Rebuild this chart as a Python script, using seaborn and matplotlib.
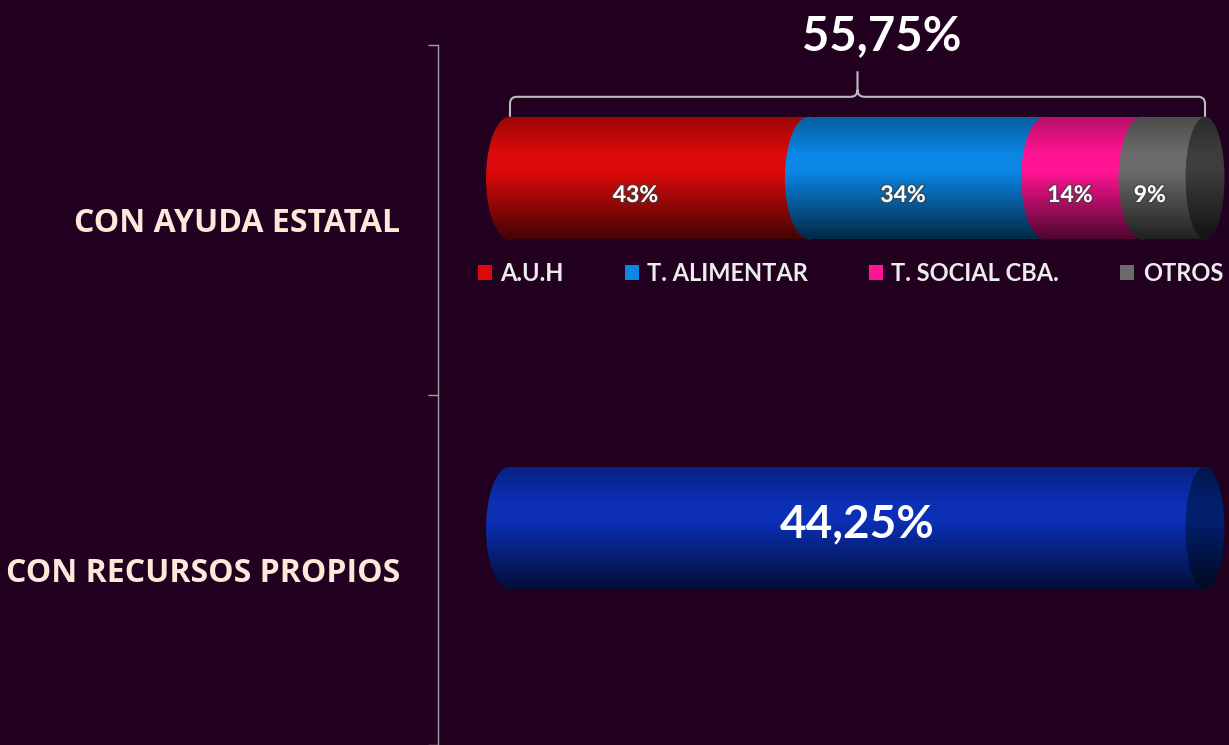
import numpy as np
import matplotlib
matplotlib.use("Agg")
import matplotlib.pyplot as plt
import matplotlib.patheffects as pe
from matplotlib.patches import Ellipse, Patch, Polygon, PathPatch
from matplotlib.path import Path
import seaborn as sns

# datos
CATEGORIES = ["CON AYUDA ESTATAL", "CON RECURSOS PROPIOS"]
CATEGORY_SHARE = [55.75, 44.25]
AYUDA_TYPES = ["A.U.H", "T. ALIMENTAR", "T. SOCIAL CBA.", "OTROS"]
AYUDA_PCT = [43, 34, 14, 9]
PROPIOS_PARTS = [44.25]

AYUDA_COLORS = ["#dc0a0a", "#0a86e4", "#ff1493", "#6b6b6b"]
PROPIOS_COLOR = "#0b2fb5"
CAP_COLORS = ["#3d3d3d", "#021f6c"]
BG = "#220020"
LABEL_COLOR = "#fde9d9"
AXIS_GRAY = "#a0a0a0"

BAR_H = 0.35      # alto de la barra (unidades de categoria)
SHIFT = 0.12      # desplazamiento de la banda de categoria respecto de la barra 3D
DEPTH = 3.45      # semi-ancho de las elipses (unidades de %)
CAP_DEPTH = 2.8   # semi-ancho de la tapa final

sns.set_style("white")
plt.rcParams["font.family"] = ["Open Sans", "DejaVu Sans"]

fig = plt.figure(figsize=(12.29, 7.45), dpi=100)
fig.patch.set_facecolor(BG)
ax = fig.add_axes([438 / 1229, 0, 791 / 1229, 700 / 745])
ax.set_facecolor(BG)


def fmt(v):
    return f"{v:.2f}".replace(".", ",") + "%"


# barras apiladas (acumuladas, de atras hacia adelante)
ayuda = np.array(AYUDA_PCT, dtype=float)
cum = np.cumsum(ayuda) / ayuda.sum() * 100
starts = cum - ayuda / ayuda.sum() * 100
for i in reversed(range(len(AYUDA_TYPES))):
    sns.barplot(x=[cum[i]], y=[CATEGORIES[0]], order=CATEGORIES, orient="h",
                color=AYUDA_COLORS[i], saturation=1, width=BAR_H,
                linewidth=0, errorbar=None, ax=ax)

propios = np.array(PROPIOS_PARTS) / sum(PROPIOS_PARTS) * 100
sns.barplot(x=[propios.sum()], y=[CATEGORIES[1]], order=CATEGORIES, orient="h",
            color=PROPIOS_COLOR, saturation=1, width=BAR_H,
            linewidth=0, errorbar=None, ax=ax)

# elipses (efecto cilindro)
for i, s in enumerate(starts):
    ax.add_patch(Ellipse((s, 0), 2 * DEPTH, BAR_H, facecolor=AYUDA_COLORS[i],
                         edgecolor="none", zorder=2, clip_on=False))
ax.add_patch(Ellipse((cum[-1], 0), 2 * CAP_DEPTH, BAR_H, facecolor=CAP_COLORS[0],
                     edgecolor="none", zorder=2, clip_on=False))
ax.add_patch(Ellipse((0, 1), 2 * DEPTH, BAR_H, facecolor=PROPIOS_COLOR,
                     edgecolor="none", zorder=2, clip_on=False))
ax.add_patch(Ellipse((propios.sum(), 1), 2 * CAP_DEPTH, BAR_H, facecolor=CAP_COLORS[1],
                     edgecolor="none", zorder=2, clip_on=False))

# sombreado vertical
prof = np.interp(np.linspace(0, 1, 256), [0, 0.3, 0.45, 1], [0.3, 0.0, 0.0, 0.7])
shade = np.zeros((256, 2, 4))
shade[:, :, 3] = prof[:, None]
t = np.linspace(np.pi / 2, 3 * np.pi / 2, 60)
for row, end in [(0, cum[-1]), (1, propios.sum())]:
    left = np.column_stack([DEPTH * np.cos(t), row + BAR_H / 2 * np.sin(t)])
    right = np.column_stack([end - CAP_DEPTH * np.cos(t), row - BAR_H / 2 * np.sin(t)])
    clip = Polygon(np.vstack([left, right]), closed=True, transform=ax.transData)
    im = ax.imshow(shade, extent=(-DEPTH, end + CAP_DEPTH, row + BAR_H / 2, row - BAR_H / 2),
                   origin="upper", aspect="auto", interpolation="bilinear", zorder=3)
    im.set_clip_path(clip)

# etiquetas de los segmentos
shadow = [pe.withStroke(linewidth=2.5, foreground=(0.25, 0.25, 0.25, 0.55))]
for s, c, v in zip(starts, cum, AYUDA_PCT):
    ax.text((s + c) / 2 - DEPTH, 0.05, f"{v}%", ha="center", va="center",
            color="white", fontsize=16.5, fontweight="bold", family="Lato",
            path_effects=shadow, zorder=4)
ax.text(propios.sum() / 2, 1 - 0.01, fmt(CATEGORY_SHARE[1]), ha="center",
        va="center", color="white", fontsize=33, fontweight="bold", family="Lato",
        zorder=4)

# llave superior
y_top = -BAR_H / 2
y_l = y_top - 0.057
y_p = y_top - 0.13
rx, ry = 1.0, 0.02
mid = cum[-1] / 2
verts = [(0, y_top), (0, y_l + ry), (0, y_l), (rx, y_l),
         (mid - rx, y_l), (mid, y_l), (mid, y_l - ry), (mid, y_p),
         (mid, y_l - ry), (mid, y_l), (mid + rx, y_l),
         (cum[-1] - rx, y_l), (cum[-1], y_l), (cum[-1], y_l + ry), (cum[-1], y_top)]
codes = [Path.MOVETO, Path.LINETO, Path.CURVE3, Path.CURVE3,
         Path.LINETO, Path.CURVE3, Path.CURVE3, Path.LINETO,
         Path.MOVETO, Path.CURVE3, Path.CURVE3,
         Path.LINETO, Path.CURVE3, Path.CURVE3, Path.LINETO]
ax.add_patch(PathPatch(Path(verts, codes), facecolor="none", edgecolor="#bdbdbd",
                       lw=1.5, zorder=4, clip_on=False))
ax.text(mid + DEPTH, y_p - 0.1, fmt(CATEGORY_SHARE[0]), ha="center", va="center",
        color="white", fontsize=34, fontweight="bold", family="Lato", clip_on=False)

# leyenda
handles = [Patch(facecolor=c, edgecolor="none", label=l)
           for c, l in zip(AYUDA_COLORS, AYUDA_TYPES)]
ax.legend(handles=handles, loc="center", ncol=4, mode="expand",
          bbox_to_anchor=(478 / 1229, 1 - 273 / 745, 745 / 1229, 0),
          bbox_transform=fig.transFigure, frameon=False, borderaxespad=0,
          borderpad=0, handlelength=0.6, handleheight=0.6, handletextpad=0.35,
          labelcolor="#ececec",
          prop={"family": "Lato", "weight": "bold", "size": 17})

# ejes
ax.set_xlim(-(510 - 438) / 6.95, (1229 - 510) / 6.95)
ax.set_ylim(1.5 + SHIFT, -0.5 + SHIFT)
ax.set_xticks([])
ax.set_xlabel("")
ax.set_ylabel("")
ax.set_yticks([i + SHIFT - 0.5 for i in range(len(CATEGORIES) + 1)])
ax.set_yticklabels([])
ax.set_yticks([i + SHIFT for i in range(len(CATEGORIES))], minor=True)
ax.set_yticklabels(CATEGORIES, minor=True, fontsize=23, fontweight="bold",
                   color=LABEL_COLOR)
ax.tick_params(axis="y", which="major", length=7.5, width=1, color=AXIS_GRAY,
               direction="out", left=True)
ax.tick_params(axis="y", which="minor", length=0, pad=27)
for side in ["top", "right", "bottom"]:
    ax.spines[side].set_visible(False)
ax.spines["left"].set_color(AXIS_GRAY)
ax.spines["left"].set_linewidth(1)

fig.savefig("out.png", dpi=100, facecolor=BG)
